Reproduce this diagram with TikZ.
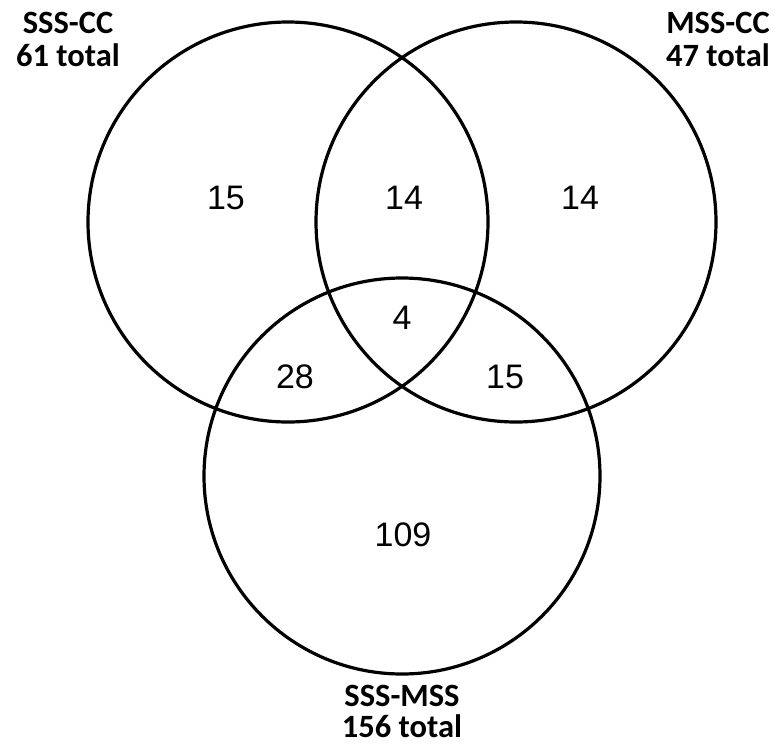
\documentclass[tikz,border=0pt]{standalone}
\usepackage{fontspec}
\setmainfont{Liberation Sans}
\newfontfamily\labelfont{Carlito}
\begin{document}
\begin{tikzpicture}[x=1pt,y=-1pt,
  setcircle/.style={draw=black,line width=3.2pt,circle,minimum size=#1,inner sep=0pt},
  count/.style={font=\fontsize{34}{40}\selectfont,inner sep=0pt,anchor=center},
  setlabel/.style={font=\labelfont\bfseries\fontsize{32.5}{33}\selectfont,inner sep=0pt,anchor=base}]
\fill[white] (0,0) rectangle (784,745);
\useasboundingbox (0,0) rectangle (784,745);
\node[setcircle=400pt] (A) at (288,222) {};
\node[setcircle=400pt] (B) at (516,222) {};
\node[setcircle=396pt] (C) at (402,476) {};
\node[count] (nA) at (226,198) {15};
\node[count] (nAB) at (404,198) {14};
\node[count] (nB) at (580,198) {14};
\node[count] (nABC) at (402,318) {4};
\node[count] (nAC) at (295,377) {28};
\node[count] (nBC) at (505,377) {15};
\node[count] (nC) at (403,535) {109};
\node[setlabel] (lA1) at (68,33) {SSS-CC};
\node[setlabel] (lA2) at (68,66) {61 total};
\node[setlabel] (lB1) at (718,33) {MSS-CC};
\node[setlabel] (lB2) at (718,66) {47 total};
\node[setlabel] (lC1) at (402,706) {SSS-MSS};
\node[setlabel] (lC2) at (402,737) {156 total};
\end{tikzpicture}
\end{document}
